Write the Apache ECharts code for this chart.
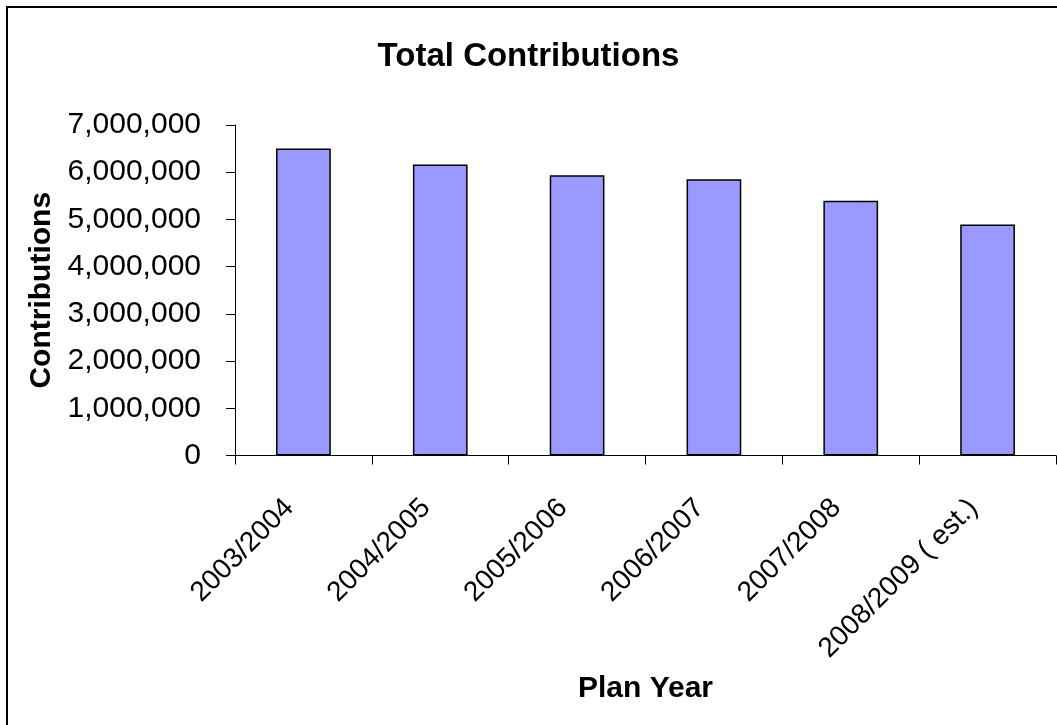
<!DOCTYPE html>
<html>
<head>
<meta charset="utf-8">
<script src="https://cdn.jsdelivr.net/npm/echarts@6/dist/echarts.min.js"></script>
<style>
html,body{margin:0;padding:0;background:#fff;}
#chart{width:1057px;height:725px;}
</style>
</head>
<body>
<div id="chart"></div>
<script>
const categories = ['2003/2004', '2004/2005', '2005/2006', '2006/2007', '2007/2008', '2008/2009 ( est.)'];
const contributions = [6500000, 6165000, 5935000, 5850000, 5395000, 4895000];
const yTicks = { min: 0, max: 7000000, interval: 1000000 };
const titleText = 'Total Contributions';
const xName = 'Plan Year';
const yName = 'Contributions';

const FONT = '"Liberation Sans", Arial, sans-serif';
const chart = echarts.init(document.getElementById('chart'));
chart.setOption({
  animation: false,
  backgroundColor: '#ffffff',
  graphic: [{
    type: 'rect', silent: true, z: 100,
    shape: { x: 7, y: 7, width: 1200, height: 900 },
    style: { fill: 'none', stroke: '#000', lineWidth: 2 }
  }],
  title: {
    text: titleText, left: 'center', top: 35,
    textStyle: { fontFamily: FONT, fontSize: 33, fontWeight: 'bold', color: '#000' }
  },
  grid: { left: 235, right: 1, top: 125, bottom: 269.5, containLabel: false },
  xAxis: {
    type: 'category', data: categories,
    name: xName, nameLocation: 'middle', nameGap: 218,
    nameTextStyle: { fontFamily: FONT, fontSize: 30, fontWeight: 'bold', color: '#000' },
    axisLine: { lineStyle: { color: '#000', width: 1 } },
    axisTick: { show: true, length: 9, alignWithLabel: false, lineStyle: { color: '#000' } },
    axisLabel: { rotate: 45, margin: 34, padding: [0, 20, 0, 0], interval: 0, fontFamily: FONT, fontSize: 28, color: '#000' }
  },
  yAxis: {
    type: 'value', min: yTicks.min, max: yTicks.max, interval: yTicks.interval,
    name: yName, nameLocation: 'middle', nameGap: 177,
    nameTextStyle: { fontFamily: FONT, fontSize: 30, fontWeight: 'bold', color: '#000' },
    axisLine: { show: true, lineStyle: { color: '#000', width: 1 } },
    axisTick: { show: true, length: 9, lineStyle: { color: '#000' } },
    splitLine: { show: false },
    axisLabel: {
      margin: 34, fontFamily: FONT, fontSize: 30, color: '#000',
      formatter: v => v.toLocaleString('en-US')
    }
  },
  series: [{
    type: 'bar', data: contributions, barWidth: '40%',
    itemStyle: { color: '#9999FF', borderColor: '#000', borderWidth: 1.5 }
  }]
});
</script>
</body>
</html>
